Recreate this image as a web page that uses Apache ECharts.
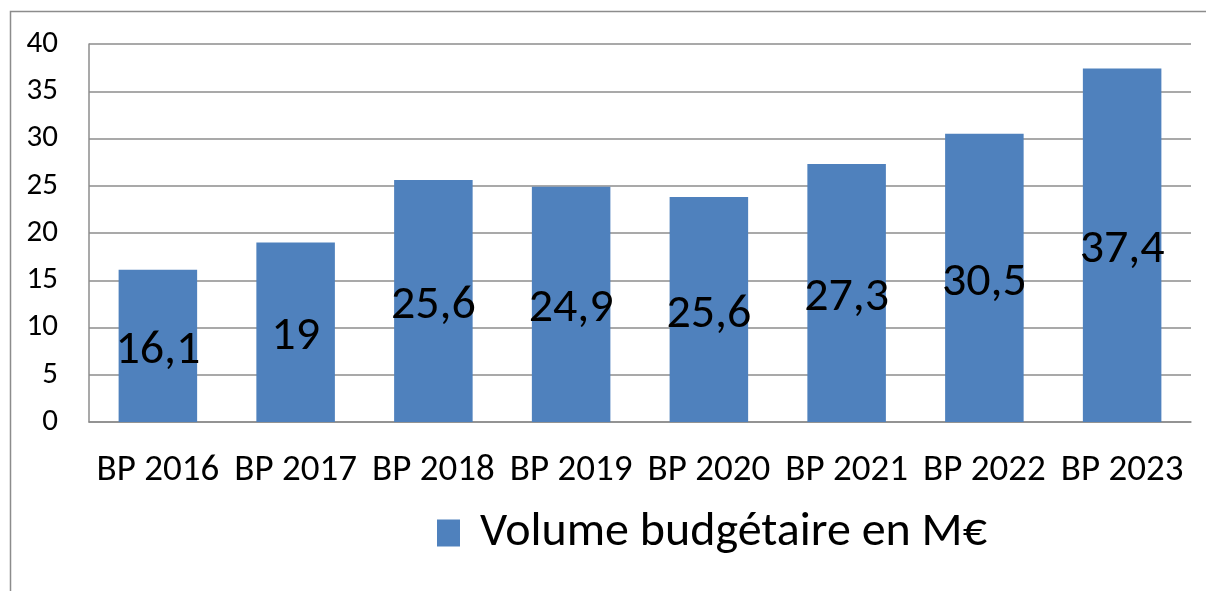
<!DOCTYPE html>
<html>
<head>
<meta charset="utf-8">
<script src="https://cdn.jsdelivr.net/npm/echarts@6/dist/echarts.min.js"></script>
<style>
  html, body { margin: 0; padding: 0; background: #fff; }
  #chart { width: 1206px; height: 591px; }
</style>
</head>
<body>
<div id="chart"></div>
<script>
const categories = ['BP 2016', 'BP 2017', 'BP 2018', 'BP 2019', 'BP 2020', 'BP 2021', 'BP 2022', 'BP 2023'];
// bar heights as drawn
const volumes = [16.1, 19, 25.6, 24.9, 23.8, 27.3, 30.5, 37.4];
// data labels as printed on the chart
const labels = ['16,1', '19', '25,6', '24,9', '25,6', '27,3', '30,5', '37,4'];
const seriesName = 'Volume budgétaire en M€';

const font = 'Carlito, "Open Sans", "Noto Sans", sans-serif';
const chart = echarts.init(document.getElementById('chart'));

chart.setOption({
  animation: false,
  textStyle: { fontFamily: font },
  graphic: [
    {
      type: 'polyline',
      shape: { points: [[10.5, 600], [10.5, 11.5], [1210, 11.5]] },
      style: { stroke: '#8c8c8c', lineWidth: 1.5, fill: null },
    },
  ],
  grid: { left: 89, right: 15, top: 44, bottom: 169 },
  legend: {
    data: [seriesName],
    top: 504,
    left: 432,
    itemWidth: 23,
    itemHeight: 27,
    itemGap: 10,
    icon: 'rect',
    textStyle: { fontSize: 48, color: '#000', fontFamily: font, padding: [0, 0, 0, 15] },
  },
  xAxis: {
    type: 'category',
    data: categories,
    axisTick: { show: false },
    axisLine: { lineStyle: { color: '#8c8c8c', width: 1.5 } },
    axisLabel: { fontSize: 37, color: '#000', margin: 30, interval: 0, hideOverlap: false },
  },
  yAxis: {
    type: 'value',
    min: 0,
    max: 40,
    interval: 5,
    axisLine: { show: true, lineStyle: { color: '#8c8c8c', width: 1.5 } },
    axisTick: { show: false },
    splitLine: { lineStyle: { color: '#8c8c8c', width: 1.5 } },
    axisLabel: { fontSize: 31, color: '#000', margin: 31 },
  },
  series: [
    {
      name: seriesName,
      type: 'bar',
      barWidth: '57%',
      itemStyle: { color: '#4f81bd' },
      data: volumes,
      label: {
        show: true,
        position: 'inside',
        offset: [0, 5],
        fontSize: 48,
        color: '#000',
        fontFamily: font,
        formatter: p => labels[p.dataIndex],
      },
    },
  ],
});
</script>
</body>
</html>
